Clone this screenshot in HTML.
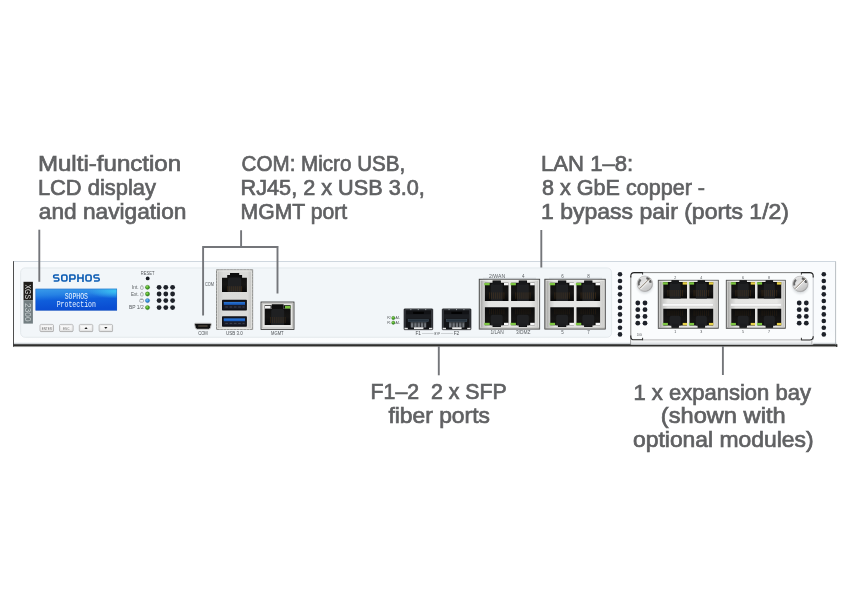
<!DOCTYPE html>
<html><head><meta charset="utf-8"><title>XGS 2300</title>
<style>
html,body{margin:0;padding:0;background:#fff;}
body{width:850px;height:610px;overflow:hidden;font-family:"Liberation Sans",sans-serif;}
svg{display:block;will-change:transform;opacity:0.999;font-family:"Liberation Sans",sans-serif;}
.lbl text{fill:#606163;stroke:#606163;stroke-width:0.7px;}
.tiny text{fill:#55585c;font-size:4.6px;text-anchor:middle;}
</style></head><body>
<svg width="850" height="610" viewBox="0 0 850 610">
<defs>
<linearGradient id="gBody" x1="0" y1="0" x2="0" y2="1">
<stop offset="0" stop-color="#f9fbfd"/><stop offset="0.85" stop-color="#f9fbfd"/><stop offset="1" stop-color="#fcfdfe"/></linearGradient>
<linearGradient id="gBottom" x1="0" y1="0" x2="0" y2="1">
<stop offset="0" stop-color="#fbfdfe"/><stop offset="0.28" stop-color="#e8ecef"/><stop offset="0.42" stop-color="#9ca0a4"/><stop offset="0.52" stop-color="#343432"/><stop offset="0.72" stop-color="#2c2c2a"/><stop offset="0.85" stop-color="#b5b5b3"/><stop offset="1" stop-color="#ffffff"/></linearGradient>
<linearGradient id="gLcd" x1="0" y1="0" x2="0.15" y2="1">
<stop offset="0" stop-color="#3a9cea"/><stop offset="0.3" stop-color="#2682e4"/><stop offset="0.55" stop-color="#0f5edb"/><stop offset="1" stop-color="#0a4dd2"/></linearGradient>
<radialGradient id="gLcdHi" cx="1" cy="0.1" r="0.35" gradientTransform="scale(1 1)">
<stop offset="0" stop-color="#3cc8f4" stop-opacity="0.95"/><stop offset="1" stop-color="#3cc8f4" stop-opacity="0"/></radialGradient>
<linearGradient id="gBtn" x1="0" y1="0" x2="0" y2="1">
<stop offset="0" stop-color="#ffffff"/><stop offset="1" stop-color="#e9e9e9"/></linearGradient>
<radialGradient id="gGreen" cx="0.4" cy="0.35" r="0.7">
<stop offset="0" stop-color="#a4e660"/><stop offset="0.5" stop-color="#47a428"/><stop offset="1" stop-color="#2a7a1a"/></radialGradient>
<radialGradient id="gBlue" cx="0.4" cy="0.35" r="0.7">
<stop offset="0" stop-color="#7cc4f5"/><stop offset="0.6" stop-color="#2c86d6"/><stop offset="1" stop-color="#1a5fa8"/></radialGradient>
<radialGradient id="gScrew" cx="0.42" cy="0.4" r="0.62">
<stop offset="0" stop-color="#f4f4f4"/><stop offset="0.7" stop-color="#d9d9d9"/><stop offset="0.9" stop-color="#bdbdbd"/><stop offset="1" stop-color="#8c8c8c"/></radialGradient>
<linearGradient id="gScrewIn" x1="0" y1="0" x2="0.6" y2="1">
<stop offset="0" stop-color="#cfcfcf"/><stop offset="0.5" stop-color="#e6e6e6"/><stop offset="1" stop-color="#c4c4c4"/></linearGradient>
<linearGradient id="gShell" x1="0" y1="0" x2="0" y2="1">
<stop offset="0" stop-color="#c9c9c7"/><stop offset="0.5" stop-color="#e6e6e4"/><stop offset="1" stop-color="#bdbdbb"/></linearGradient>
<linearGradient id="gShellH" x1="0" y1="0" x2="1" y2="0">
<stop offset="0" stop-color="#8f8f8d"/><stop offset="0.07" stop-color="#c6c6c4"/><stop offset="0.16" stop-color="#e4e4e2"/><stop offset="0.85" stop-color="#e6e6e4"/><stop offset="0.95" stop-color="#d2d2d0"/><stop offset="1" stop-color="#b5b5b3"/></linearGradient>
<linearGradient id="gShellC" x1="0" y1="0" x2="1" y2="0">
<stop offset="0" stop-color="#a9a9a7"/><stop offset="0.08" stop-color="#cfcfcd"/><stop offset="0.2" stop-color="#dcdcda"/><stop offset="0.85" stop-color="#dadad8"/><stop offset="1" stop-color="#bfbfbd"/></linearGradient>
<linearGradient id="gStrip" x1="0" y1="0" x2="0" y2="1">
<stop offset="0" stop-color="#ffffff"/><stop offset="1" stop-color="#d5d9dc"/></linearGradient>
<linearGradient id="gPort" x1="0" y1="0" x2="0" y2="1">
<stop offset="0" stop-color="#0c0c0c"/><stop offset="0.6" stop-color="#161514"/><stop offset="1" stop-color="#080808"/></linearGradient>
<g id="pTop">
<rect x="0" y="0" width="24" height="19.5" fill="url(#gPort)"/>
<rect x="6.5" y="-0.8" width="11" height="6" fill="#101010"/>
<g stroke="#6b4a22" stroke-width="0.5"><path d="M5.5 11v6M7.4 11v6M9.3 11v6M11.2 11v6M13.1 11v6M15 11v6M16.9 11v6M18.8 11v6"/></g>
</g>
<g id="pBot">
<rect x="0" y="0" width="24" height="19.5" fill="url(#gPort)"/>
<rect x="6.5" y="14.3" width="11" height="6" fill="#101010"/>
<g stroke="#5a3d1c" stroke-width="0.5"><path d="M5.5 2v5M7.4 2v5M9.3 2v5M11.2 2v5M13.1 2v5M15 2v5M16.9 2v5M18.8 2v5"/></g>
</g>
<filter id="fBlur05" x="-20%" y="-20%" width="140%" height="140%"><feGaussianBlur stdDeviation="0.55"/></filter><filter id="fBlur1" x="-30%" y="-30%" width="160%" height="160%"><feGaussianBlur stdDeviation="0.9"/></filter>
</defs>
<rect width="850" height="610" fill="#ffffff"/>
<g class="lbl">
<text x="37.9" y="170.6" font-size="22" textLength="143.3" lengthAdjust="spacingAndGlyphs" text-anchor="start">Multi-function</text><text x="37.9" y="194.8" font-size="22" textLength="118.0" lengthAdjust="spacingAndGlyphs" text-anchor="start">LCD display</text><text x="38.8" y="218.9" font-size="22" textLength="147.6" lengthAdjust="spacingAndGlyphs" text-anchor="start">and navigation</text><text x="241.6" y="170.6" font-size="22" textLength="163.6" lengthAdjust="spacingAndGlyphs" text-anchor="start">COM: Micro USB,</text><text x="240.6" y="194.8" font-size="22" textLength="184.2" lengthAdjust="spacingAndGlyphs" text-anchor="start">RJ45, 2 x USB 3.0,</text><text x="240.6" y="218.9" font-size="22" textLength="106.6" lengthAdjust="spacingAndGlyphs" text-anchor="start">MGMT port</text><text x="541.0" y="171.0" font-size="22" textLength="92.2" lengthAdjust="spacingAndGlyphs" text-anchor="start">LAN 1–8:</text><text x="542.0" y="195.2" font-size="22" textLength="163.0" lengthAdjust="spacingAndGlyphs" text-anchor="start">8 x GbE copper -</text><text x="541.0" y="219.4" font-size="22" textLength="248.0" lengthAdjust="spacingAndGlyphs" text-anchor="start">1 bypass pair (ports 1/2)</text><text x="370.6" y="399.0" font-size="22" textLength="136.2" lengthAdjust="spacingAndGlyphs" text-anchor="start">F1–2&#160;&#160;2 x SFP</text><text x="388.4" y="423.0" font-size="22" textLength="101.5" lengthAdjust="spacingAndGlyphs" text-anchor="start">fiber ports</text><text x="633.4" y="399.5" font-size="22" textLength="177.6" lengthAdjust="spacingAndGlyphs" text-anchor="start">1 x expansion bay</text><text x="660.8" y="423.4" font-size="22" textLength="124.8" lengthAdjust="spacingAndGlyphs" text-anchor="start">(shown with</text><text x="633.0" y="447.2" font-size="22" textLength="180.6" lengthAdjust="spacingAndGlyphs" text-anchor="start">optional modules)</text></g>
<g id="device">
<rect x="13" y="261.2" width="823" height="82" fill="url(#gBody)"/>
<rect x="13" y="341.5" width="823.6" height="6.1" fill="url(#gBottom)"/>
<rect x="836" y="344.3" width="1.4" height="2.6" fill="#2e2e2c"/>
<path d="M13.2 261.5H835.8" stroke="#c9d2db" stroke-width="0.9"/>
<path d="M835.6 261.5V344.5" stroke="#a7adb3" stroke-width="0.8"/>
<rect x="13.1" y="261.2" width="0.9" height="85.4" fill="#3a3a3a"/>
<rect x="20.6" y="267.9" width="591" height="69.4" rx="4.5" fill="#f2f6f9" stroke="#dce2e7" stroke-width="0.7"/>
</g>
<g id="left">
<rect x="23.5" y="281.8" width="9.4" height="18.5" fill="#1f1d1a"/>
<rect x="23.5" y="300.3" width="9.4" height="23.3" fill="#737f82"/>
<text transform="translate(25.2,284.5) rotate(90)" font-size="8.7" fill="#dedede" textLength="14.5" lengthAdjust="spacingAndGlyphs">XGS</text>
<text transform="translate(25.2,303.1) rotate(90)" font-size="8.7" fill="#c6cdcf" textLength="18.5" lengthAdjust="spacingAndGlyphs">2300</text>
<g fill="none" stroke="#0b5bb3" stroke-width="1.62" stroke-linejoin="round">
<path transform="translate(52.80,274.2)" d="M6.1 0.85H2.3Q0.9 0.85 0.9 2.2V2.5Q0.9 3.85 2.3 3.85H4.7Q6.1 3.85 6.1 5.2V5.5Q6.1 6.85 4.7 6.85H0.9"/>
<path transform="translate(60.86,274.2)" d="M2.5 0.85H4.5Q6.05 0.85 6.05 2.4V5.3Q6.05 6.85 4.5 6.85H2.5Q0.95 6.85 0.95 5.3V2.4Q0.95 0.85 2.5 0.85Z"/>
<path transform="translate(68.92,274.2)" d="M1.0 7.7V0.85H4.6Q6.1 0.85 6.1 2.3V3.3Q6.1 4.75 4.6 4.75H1.0"/>
<path transform="translate(76.98,274.2)" d="M1.0 0V7.7M6.0 0V7.7M1.0 3.85H6.0"/>
<path transform="translate(85.04,274.2)" d="M2.5 0.85H4.5Q6.05 0.85 6.05 2.4V5.3Q6.05 6.85 4.5 6.85H2.5Q0.95 6.85 0.95 5.3V2.4Q0.95 0.85 2.5 0.85Z"/>
<path transform="translate(93.10,274.2)" d="M6.1 0.85H2.3Q0.9 0.85 0.9 2.2V2.5Q0.9 3.85 2.3 3.85H4.7Q6.1 3.85 6.1 5.2V5.5Q6.1 6.85 4.7 6.85H0.9"/>
</g>
<rect x="35.6" y="288.8" width="81.4" height="21.7" fill="url(#gLcd)"/>
<rect x="35.6" y="288.8" width="81.4" height="21.7" fill="url(#gLcdHi)"/>
<rect x="35.8" y="289.0" width="81.0" height="21.3" fill="none" stroke="#2a5fb8" stroke-width="0.5" opacity="0.8"/>
<g font-family="Liberation Mono, monospace" fill="#eaf3ff" text-anchor="middle">
<text x="76.3" y="298.8" font-size="9.6" textLength="23.3" lengthAdjust="spacingAndGlyphs">SOPHOS</text>
<text x="76.3" y="307.1" font-size="8.6" textLength="39.2" lengthAdjust="spacingAndGlyphs">Protection</text>
</g>
<rect x="40.2" y="324.8" width="13.5" height="7.3" rx="1.4" fill="#a9a9a9" opacity="0.8"/>
<rect x="40.0" y="324.4" width="13.5" height="7.2" rx="1.3" fill="url(#gBtn)" stroke="#9c9c9c" stroke-width="0.6"/>
<rect x="41.0" y="325.4" width="11.5" height="5.2" rx="0.7" fill="none" stroke="#dadada" stroke-width="0.4"/>
<text x="46.75" y="329.5" font-size="3.3" fill="#707070" text-anchor="middle" textLength="10.2" lengthAdjust="spacingAndGlyphs">ENTER</text>
<rect x="59.7" y="324.8" width="13.5" height="7.3" rx="1.4" fill="#a9a9a9" opacity="0.8"/>
<rect x="59.5" y="324.4" width="13.5" height="7.2" rx="1.3" fill="url(#gBtn)" stroke="#9c9c9c" stroke-width="0.6"/>
<rect x="60.5" y="325.4" width="11.5" height="5.2" rx="0.7" fill="none" stroke="#dadada" stroke-width="0.4"/>
<text x="66.25" y="329.5" font-size="3.3" fill="#707070" text-anchor="middle" textLength="6.4" lengthAdjust="spacingAndGlyphs">ESC</text>
<rect x="79.5" y="324.8" width="13.5" height="7.3" rx="1.4" fill="#a9a9a9" opacity="0.8"/>
<rect x="79.3" y="324.4" width="13.5" height="7.2" rx="1.3" fill="url(#gBtn)" stroke="#9c9c9c" stroke-width="0.6"/>
<rect x="80.3" y="325.4" width="11.5" height="5.2" rx="0.7" fill="none" stroke="#dadada" stroke-width="0.4"/>
<path d="M84.45 328.90000000000003L86.05 327.1L87.64999999999999 328.90000000000003Z" fill="#222"/>
<rect x="99.3" y="324.8" width="13.5" height="7.3" rx="1.4" fill="#a9a9a9" opacity="0.8"/>
<rect x="99.1" y="324.4" width="13.5" height="7.2" rx="1.3" fill="url(#gBtn)" stroke="#9c9c9c" stroke-width="0.6"/>
<rect x="100.1" y="325.4" width="11.5" height="5.2" rx="0.7" fill="none" stroke="#dadada" stroke-width="0.4"/>
<path d="M104.25 327.1L105.85 328.90000000000003L107.44999999999999 327.1Z" fill="#222"/>
<text x="147.6" y="274.7" font-size="4.5" fill="#55595d" text-anchor="middle" textLength="13.6" lengthAdjust="spacingAndGlyphs">RESET</text>
<circle cx="147.7" cy="278.4" r="1.9" fill="#171b22"/>
<circle cx="147.5" cy="287.3" r="2.15" fill="url(#gGreen)" stroke="#2f6a1e" stroke-width="0.3"/>
<circle cx="159.1" cy="287.3" r="2.4" fill="#1e222a"/>
<circle cx="165.8" cy="287.3" r="2.4" fill="#1e222a"/>
<circle cx="172.6" cy="287.3" r="2.4" fill="#1e222a"/>
<text x="131.89999999999998" y="288.8" font-size="5.2" fill="#55595d" textLength="6.8" lengthAdjust="spacingAndGlyphs">Int.</text>
<rect x="140.5" y="286.1" width="2.7" height="3.2" rx="0.8" fill="none" stroke="#666a6e" stroke-width="0.45"/>
<path d="M141.85 286.1v-1" stroke="#666a6e" stroke-width="0.45"/>
<circle cx="147.5" cy="294.0" r="2.15" fill="url(#gGreen)" stroke="#2f6a1e" stroke-width="0.3"/>
<circle cx="159.1" cy="294.0" r="2.4" fill="#1e222a"/>
<circle cx="165.8" cy="294.0" r="2.4" fill="#1e222a"/>
<circle cx="172.6" cy="294.0" r="2.4" fill="#1e222a"/>
<text x="130.89999999999998" y="295.5" font-size="5.2" fill="#55595d" textLength="7.8" lengthAdjust="spacingAndGlyphs">Ext.</text>
<rect x="140.5" y="292.8" width="2.7" height="3.2" rx="0.8" fill="none" stroke="#666a6e" stroke-width="0.45"/>
<path d="M141.85 292.8v-1" stroke="#666a6e" stroke-width="0.45"/>
<circle cx="147.5" cy="300.6" r="2.15" fill="url(#gBlue)" stroke="#1f5f9a" stroke-width="0.3"/>
<circle cx="159.1" cy="300.6" r="2.4" fill="#1e222a"/>
<circle cx="165.8" cy="300.6" r="2.4" fill="#1e222a"/>
<circle cx="172.6" cy="300.6" r="2.4" fill="#1e222a"/>
<rect x="139.7" y="299.3" width="3.8" height="2.9" rx="0.8" fill="none" stroke="#666a6e" stroke-width="0.45"/>
<path d="M140.4 299.20000000000005h2.4" stroke="#666a6e" stroke-width="0.6"/>
<circle cx="147.5" cy="307.6" r="2.15" fill="url(#gGreen)" stroke="#2f6a1e" stroke-width="0.3"/>
<circle cx="159.1" cy="307.6" r="2.4" fill="#1e222a"/>
<circle cx="165.8" cy="307.6" r="2.4" fill="#1e222a"/>
<circle cx="172.6" cy="307.6" r="2.4" fill="#1e222a"/>
<text x="129.0" y="309.3" font-size="4.9" fill="#55595d" textLength="14.7" lengthAdjust="spacingAndGlyphs">BP 1/2</text>
</g>
<g id="com">
<path d="M195.6 323.2H210.3Q211.4 323.2 211.3 324.4L210.6 327.6Q210.2 329.3 208.6 329.3H197.3Q195.7 329.3 195.3 327.6L194.6 324.4Q194.5 323.2 195.6 323.2Z" fill="#111" stroke="#cdcdcd" stroke-width="1.0"/>
<rect x="198.2" y="325.4" width="9.4" height="1.2" fill="#5b5146"/>
<text x="203" y="334.9" font-size="4.5" fill="#4e5256" text-anchor="middle" textLength="9.6" lengthAdjust="spacingAndGlyphs">COM</text>
<rect x="216.3" y="269.8" width="36.5" height="59.7" fill="url(#gShellC)"/>
<rect x="216.3" y="269.8" width="36.5" height="59.7" fill="none" stroke="#6a6a68" stroke-width="0.6"/>
<rect x="216.3" y="269.8" width="36.5" height="59.7" fill="none" stroke="#e4e4e2" stroke-width="0.7" stroke-dasharray="0.7 2.6" opacity="0.9"/>
<rect x="217.5" y="271.0" width="34.1" height="57.3" fill="none" stroke="#f0f0ee" stroke-width="0.7" opacity="0.8"/>
<path d="M222 277.8H227.2V274.9H230V272.9H239.2V274.9H242.1V277.8H246.9V292.1H222Z" fill="url(#gPort)"/>
<path d="M228 292.1V279.5Q228 277.5 230 277.5H239.2Q241.2 277.5 241.2 279.5V292.1Z" fill="#1f2022"/>
<g stroke="#8a5a22" stroke-width="0.5" opacity="0.6"><path d="M227.8 286.2v5.4M229.8 286.2v5.4M231.8 286.2v5.4M233.8 286.2v5.4M235.8 286.2v5.4M237.8 286.2v5.4M239.8 286.2v5.4M241.6 286.2v5.4"/></g>
<text x="209.5" y="285.5" font-size="4.5" fill="#55595d" text-anchor="middle" textLength="9.2" lengthAdjust="spacingAndGlyphs">COM</text>
<rect x="222" y="299.8" width="24.9" height="10.6" rx="0.7" fill="#101116"/>
<rect x="223.4" y="301.2" width="22.1" height="7.6" fill="#191c2a"/>
<rect x="223.8" y="302.2" width="21.2" height="2.6" fill="#1b5fc2"/>
<rect x="223.8" y="302.2" width="21.2" height="0.9" fill="#2f7bd8"/>
<g stroke="#5a5d66" stroke-width="0.6"><path d="M225.3 307.0h2.6M229.6 307.0h2.6M233.9 307.0h2.6M238.2 307.0h2.6M242.5 307.0h2"/></g>
<rect x="222" y="316.2" width="24.9" height="10.6" rx="0.7" fill="#101116"/>
<rect x="223.4" y="317.59999999999997" width="22.1" height="7.6" fill="#191c2a"/>
<rect x="223.8" y="318.59999999999997" width="21.2" height="2.6" fill="#1b5fc2"/>
<rect x="223.8" y="318.59999999999997" width="21.2" height="0.9" fill="#2f7bd8"/>
<g stroke="#5a5d66" stroke-width="0.6"><path d="M225.3 323.4h2.6M229.6 323.4h2.6M233.9 323.4h2.6M238.2 323.4h2.6M242.5 323.4h2"/></g>
<text x="234.4" y="334.9" font-size="4.5" fill="#4e5256" text-anchor="middle" textLength="16.8" lengthAdjust="spacingAndGlyphs">USB 3.0</text>
<rect x="261" y="302" width="33" height="27.4" fill="#e3e3e1" stroke="#2e2e2e" stroke-width="0.8"/>
<rect x="262.6" y="303.4" width="29.8" height="24.6" fill="none" stroke="#bdbdbb" stroke-width="0.8"/>
<path d="M264.7 309H271.8V304.3H283.6V309H290.6V325H264.7Z" fill="url(#gPort)"/>
<rect x="264.7" y="305.2" width="7" height="3.6" fill="#0f0f0f"/>
<rect x="283.6" y="305.2" width="7" height="3.6" fill="#0f0f0f"/>
<rect x="265" y="305.9" width="5.6" height="2.6" fill="#f4f4f4"/>
<rect x="285" y="305.9" width="5.4" height="2.6" fill="#7cc540"/>
<path d="M271.2 325V311Q271.2 309 273.2 309H282.2Q284.2 309 284.2 311V325Z" fill="#1f2022"/>
<g stroke="#6a4820" stroke-width="0.5" opacity="0.6"><path d="M270.5 317v6M272.6 317v6M274.7 317v6M276.8 317v6M278.9 317v6M281 317v6M283.1 317v6M285.2 317v6"/></g>
<text x="277.3" y="334.9" font-size="4.5" fill="#4e5256" text-anchor="middle" textLength="12.5" lengthAdjust="spacingAndGlyphs">MGMT</text>
</g>
<g id="sfp">
<text x="387.2" y="319.1" font-size="3.1" fill="#4e5256">F2</text>
<text x="395.4" y="319.1" font-size="3.1" fill="#4e5256">A/L</text>
<circle cx="393.3" cy="318.0" r="1.7" fill="url(#gGreen)" stroke="#2f6a1e" stroke-width="0.3"/>
<text x="387.2" y="323.8" font-size="3.1" fill="#4e5256">F1</text>
<text x="395.4" y="323.8" font-size="3.1" fill="#4e5256">A/L</text>
<circle cx="393.3" cy="322.7" r="1.7" fill="url(#gGreen)" stroke="#2f6a1e" stroke-width="0.3"/>
<g transform="translate(403.9,308.8)">
<rect x="0" y="0" width="29" height="21" rx="0.9" fill="#121316" stroke="#4c4e52" stroke-width="0.5"/>
<rect x="0.3" y="1.2" width="1.6" height="18" fill="#33363b"/>
<rect x="27.1" y="1.2" width="1.6" height="18" fill="#33363b"/>
<rect x="1.2" y="0.5" width="26.6" height="0.9" fill="#44474c"/>
<g fill="#b8bcc0"><rect x="13.9" y="0.4" width="0.9" height="0.9"/><rect x="21.4" y="0.4" width="0.9" height="0.9"/><rect x="6.5" y="0.4" width="0.9" height="0.9"/></g>
<rect x="9.2" y="3.0" width="10.8" height="2.1" fill="#030303"/>
<rect x="2" y="5.4" width="25" height="4.6" fill="#1b1d21"/>
<rect x="4.2" y="10.5" width="20.6" height="2.5" fill="#27323d" stroke="#465663" stroke-width="0.4"/>
<rect x="6.9" y="13.3" width="15.4" height="5.4" fill="#71757b"/>
<g stroke="#26282c" stroke-width="1.0"><path d="M9.9 13.3v5.4M13.2 13.3v5.4M16.5 13.3v5.4M19.8 13.3v5.4"/></g>
<rect x="6.9" y="13.3" width="15.4" height="1.2" fill="#30343a" opacity="0.7"/>
<rect x="10.1" y="18.5" width="9.4" height="1.8" fill="#ededed"/>
<rect x="0.6" y="19.0" width="3.3" height="1.4" fill="#e4e4e4"/>
<rect x="25.1" y="19.0" width="3.3" height="1.4" fill="#e4e4e4"/>
</g>
<g transform="translate(442.1,308.8)">
<rect x="0" y="0" width="29" height="21" rx="0.9" fill="#121316" stroke="#4c4e52" stroke-width="0.5"/>
<rect x="0.3" y="1.2" width="1.6" height="18" fill="#33363b"/>
<rect x="27.1" y="1.2" width="1.6" height="18" fill="#33363b"/>
<rect x="1.2" y="0.5" width="26.6" height="0.9" fill="#44474c"/>
<g fill="#b8bcc0"><rect x="13.9" y="0.4" width="0.9" height="0.9"/><rect x="21.4" y="0.4" width="0.9" height="0.9"/><rect x="6.5" y="0.4" width="0.9" height="0.9"/></g>
<rect x="9.2" y="3.0" width="10.8" height="2.1" fill="#030303"/>
<rect x="2" y="5.4" width="25" height="4.6" fill="#1b1d21"/>
<rect x="4.2" y="10.5" width="20.6" height="2.5" fill="#27323d" stroke="#465663" stroke-width="0.4"/>
<rect x="6.9" y="13.3" width="15.4" height="5.4" fill="#71757b"/>
<g stroke="#26282c" stroke-width="1.0"><path d="M9.9 13.3v5.4M13.2 13.3v5.4M16.5 13.3v5.4M19.8 13.3v5.4"/></g>
<rect x="6.9" y="13.3" width="15.4" height="1.2" fill="#30343a" opacity="0.7"/>
<rect x="10.1" y="18.5" width="9.4" height="1.8" fill="#ededed"/>
<rect x="0.6" y="19.0" width="3.3" height="1.4" fill="#e4e4e4"/>
<rect x="25.1" y="19.0" width="3.3" height="1.4" fill="#e4e4e4"/>
</g>
<text x="418.2" y="335.2" font-size="4.8" fill="#4e5256" text-anchor="middle">F1</text>
<text x="456.5" y="335.2" font-size="4.8" fill="#4e5256" text-anchor="middle">F2</text>
<path d="M422 333.5H433.6M441 333.5H453" stroke="#8a8d91" stroke-width="0.35"/>
<text x="437.3" y="334.5" font-size="2.7" fill="#4e5256" text-anchor="middle">BYP</text>
</g>
<g id="lan">
<rect x="479.2" y="279.2" width="60.5" height="49.9" fill="url(#gShellH)" stroke="#3e3e3e" stroke-width="0.8"/>
<rect x="480.5" y="280.5" width="57.9" height="47.3" fill="none" stroke="#f2f2f0" stroke-width="0.7" opacity="0.85"/>
<rect x="479.59999999999997" y="327.6" width="59.7" height="1.2" fill="#8e8e8c" opacity="0.7"/>
<path d="M484.9 282.8H492.55V280.6H500.84999999999997V282.8H508.5V301.0H484.9Z" fill="url(#gPort)"/>
<path d="M490.75 301.0V285.40000000000003Q490.75 283.40000000000003 492.75 283.40000000000003H500.65Q502.65 283.40000000000003 502.65 285.40000000000003V301.0Z" fill="#1f2022"/>
<rect x="493.15000000000003" y="280.90000000000003" width="7.1000000000000005" height="3.8000000000000003" fill="#17181a"/>
<path d="M489.50 292.4v6.4M491.56 292.4v6.4M493.61 292.4v6.4M495.67 292.4v6.4M497.73 292.4v6.4M499.79 292.4v6.4M501.84 292.4v6.4M503.90 292.4v6.4" stroke="#7a5020" stroke-width="0.55" opacity="0.5"/>
<rect x="484.29999999999995" y="282.90000000000003" width="5.4" height="2.4" fill="#7cc540"/>
<rect x="504.0" y="282.90000000000003" width="4.6000000000000005" height="2.4" fill="#f6f6f6"/>
<path d="M484.9 307.3H508.5V325.3H500.84999999999997V327.0H492.55V325.3H484.9Z" fill="url(#gPort)"/>
<path d="M490.75 325.3V316.86Q490.75 314.86 492.75 314.86H500.65Q502.65 314.86 502.65 316.86V325.3Z" fill="#1f2022"/>
<rect x="493.15000000000003" y="323.7" width="7.1000000000000005" height="3.0" fill="#1b1c1e"/>
<path d="M489.50 308.90000000000003v5.4M491.56 308.90000000000003v5.4M493.61 308.90000000000003v5.4M495.67 308.90000000000003v5.4M497.73 308.90000000000003v5.4M499.79 308.90000000000003v5.4M501.84 308.90000000000003v5.4M503.90 308.90000000000003v5.4" stroke="#5a3a18" stroke-width="0.55" opacity="0.35"/>
<rect x="484.29999999999995" y="322.8" width="5.4" height="2.4" fill="#7cc540"/>
<rect x="504.0" y="322.8" width="4.6000000000000005" height="2.4" fill="#f6f6f6"/>
<path d="M511.1 282.8H518.75V280.6H527.05V282.8H534.7V301.0H511.1Z" fill="url(#gPort)"/>
<path d="M516.9499999999999 301.0V285.40000000000003Q516.9499999999999 283.40000000000003 518.9499999999999 283.40000000000003H526.85Q528.85 283.40000000000003 528.85 285.40000000000003V301.0Z" fill="#1f2022"/>
<rect x="519.35" y="280.90000000000003" width="7.1000000000000005" height="3.8000000000000003" fill="#17181a"/>
<path d="M515.70 292.4v6.4M517.76 292.4v6.4M519.81 292.4v6.4M521.87 292.4v6.4M523.93 292.4v6.4M525.99 292.4v6.4M528.04 292.4v6.4M530.10 292.4v6.4" stroke="#7a5020" stroke-width="0.55" opacity="0.5"/>
<rect x="510.5" y="282.90000000000003" width="5.4" height="2.4" fill="#7cc540"/>
<rect x="530.2" y="282.90000000000003" width="4.6000000000000005" height="2.4" fill="#f6f6f6"/>
<path d="M511.1 307.3H534.7V325.3H527.05V327.0H518.75V325.3H511.1Z" fill="url(#gPort)"/>
<path d="M516.9499999999999 325.3V316.86Q516.9499999999999 314.86 518.9499999999999 314.86H526.85Q528.85 314.86 528.85 316.86V325.3Z" fill="#1f2022"/>
<rect x="519.35" y="323.7" width="7.1000000000000005" height="3.0" fill="#1b1c1e"/>
<path d="M515.70 308.90000000000003v5.4M517.76 308.90000000000003v5.4M519.81 308.90000000000003v5.4M521.87 308.90000000000003v5.4M523.93 308.90000000000003v5.4M525.99 308.90000000000003v5.4M528.04 308.90000000000003v5.4M530.10 308.90000000000003v5.4" stroke="#5a3a18" stroke-width="0.55" opacity="0.35"/>
<rect x="510.5" y="322.8" width="5.4" height="2.4" fill="#7cc540"/>
<rect x="530.2" y="322.8" width="4.6000000000000005" height="2.4" fill="#f6f6f6"/>
<rect x="544.8" y="279.2" width="60.5" height="49.9" fill="url(#gShellH)" stroke="#3e3e3e" stroke-width="0.8"/>
<rect x="546.0999999999999" y="280.5" width="57.9" height="47.3" fill="none" stroke="#f2f2f0" stroke-width="0.7" opacity="0.85"/>
<rect x="545.1999999999999" y="327.6" width="59.7" height="1.2" fill="#8e8e8c" opacity="0.7"/>
<path d="M550.3 282.8H557.9499999999999V280.6H566.2499999999999V282.8H573.9V301.0H550.3Z" fill="url(#gPort)"/>
<path d="M556.1499999999999 301.0V285.40000000000003Q556.1499999999999 283.40000000000003 558.1499999999999 283.40000000000003H566.05Q568.05 283.40000000000003 568.05 285.40000000000003V301.0Z" fill="#1f2022"/>
<rect x="558.55" y="280.90000000000003" width="7.1000000000000005" height="3.8000000000000003" fill="#17181a"/>
<path d="M554.90 292.4v6.4M556.96 292.4v6.4M559.01 292.4v6.4M561.07 292.4v6.4M563.13 292.4v6.4M565.19 292.4v6.4M567.24 292.4v6.4M569.30 292.4v6.4" stroke="#7a5020" stroke-width="0.55" opacity="0.5"/>
<rect x="549.6999999999999" y="282.90000000000003" width="5.4" height="2.4" fill="#7cc540"/>
<rect x="569.4" y="282.90000000000003" width="4.6000000000000005" height="2.4" fill="#f6f6f6"/>
<path d="M550.3 307.3H573.9V325.3H566.2499999999999V327.0H557.9499999999999V325.3H550.3Z" fill="url(#gPort)"/>
<path d="M556.1499999999999 325.3V316.86Q556.1499999999999 314.86 558.1499999999999 314.86H566.05Q568.05 314.86 568.05 316.86V325.3Z" fill="#1f2022"/>
<rect x="558.55" y="323.7" width="7.1000000000000005" height="3.0" fill="#1b1c1e"/>
<path d="M554.90 308.90000000000003v5.4M556.96 308.90000000000003v5.4M559.01 308.90000000000003v5.4M561.07 308.90000000000003v5.4M563.13 308.90000000000003v5.4M565.19 308.90000000000003v5.4M567.24 308.90000000000003v5.4M569.30 308.90000000000003v5.4" stroke="#5a3a18" stroke-width="0.55" opacity="0.35"/>
<rect x="549.6999999999999" y="322.8" width="5.4" height="2.4" fill="#7cc540"/>
<rect x="569.4" y="322.8" width="4.6000000000000005" height="2.4" fill="#f6f6f6"/>
<path d="M576.5 282.8H584.15V280.6H592.4499999999999V282.8H600.1V301.0H576.5Z" fill="url(#gPort)"/>
<path d="M582.3499999999999 301.0V285.40000000000003Q582.3499999999999 283.40000000000003 584.3499999999999 283.40000000000003H592.25Q594.25 283.40000000000003 594.25 285.40000000000003V301.0Z" fill="#1f2022"/>
<rect x="584.75" y="280.90000000000003" width="7.1000000000000005" height="3.8000000000000003" fill="#17181a"/>
<path d="M581.10 292.4v6.4M583.16 292.4v6.4M585.21 292.4v6.4M587.27 292.4v6.4M589.33 292.4v6.4M591.39 292.4v6.4M593.44 292.4v6.4M595.50 292.4v6.4" stroke="#7a5020" stroke-width="0.55" opacity="0.5"/>
<rect x="575.9" y="282.90000000000003" width="5.4" height="2.4" fill="#7cc540"/>
<rect x="595.6" y="282.90000000000003" width="4.6000000000000005" height="2.4" fill="#f6f6f6"/>
<path d="M576.5 307.3H600.1V325.3H592.4499999999999V327.0H584.15V325.3H576.5Z" fill="url(#gPort)"/>
<path d="M582.3499999999999 325.3V316.86Q582.3499999999999 314.86 584.3499999999999 314.86H592.25Q594.25 314.86 594.25 316.86V325.3Z" fill="#1f2022"/>
<rect x="584.75" y="323.7" width="7.1000000000000005" height="3.0" fill="#1b1c1e"/>
<path d="M581.10 308.90000000000003v5.4M583.16 308.90000000000003v5.4M585.21 308.90000000000003v5.4M587.27 308.90000000000003v5.4M589.33 308.90000000000003v5.4M591.39 308.90000000000003v5.4M593.44 308.90000000000003v5.4M595.50 308.90000000000003v5.4" stroke="#5a3a18" stroke-width="0.55" opacity="0.35"/>
<rect x="575.9" y="322.8" width="5.4" height="2.4" fill="#7cc540"/>
<rect x="595.6" y="322.8" width="4.6000000000000005" height="2.4" fill="#f6f6f6"/>
<text x="497.1" y="277.5" font-size="4.5" fill="#5b5f63" text-anchor="middle" textLength="16" lengthAdjust="spacingAndGlyphs">2/WAN</text>
<text x="523.2" y="277.5" font-size="4.5" fill="#5b5f63" text-anchor="middle">4</text>
<text x="562.4" y="277.5" font-size="4.5" fill="#5b5f63" text-anchor="middle">6</text>
<text x="588.4" y="277.5" font-size="4.5" fill="#5b5f63" text-anchor="middle">8</text>
<text x="497.1" y="333.6" font-size="4.5" fill="#5b5f63" text-anchor="middle" textLength="13.4" lengthAdjust="spacingAndGlyphs">1/LAN</text>
<text x="523.3" y="333.6" font-size="4.5" fill="#5b5f63" text-anchor="middle" textLength="14.5" lengthAdjust="spacingAndGlyphs">3/DMZ</text>
<text x="562.4" y="333.6" font-size="4.5" fill="#5b5f63" text-anchor="middle">5</text>
<text x="588.4" y="333.6" font-size="4.5" fill="#5b5f63" text-anchor="middle">7</text>
<path d="M483 278.3H536M549 278.3H602" stroke="#aeb3b8" stroke-width="0.5"/>
</g>
<g fill="#1e222a">
<circle cx="620.0" cy="274.30" r="2.3"/>
<circle cx="620.0" cy="280.98" r="2.3"/>
<circle cx="620.0" cy="287.66" r="2.3"/>
<circle cx="620.0" cy="294.34" r="2.3"/>
<circle cx="620.0" cy="301.02" r="2.3"/>
<circle cx="620.0" cy="307.70" r="2.3"/>
<circle cx="620.0" cy="314.38" r="2.3"/>
<circle cx="620.0" cy="321.06" r="2.3"/>
<circle cx="620.0" cy="327.74" r="2.3"/>
<circle cx="620.0" cy="334.42" r="2.3"/>
<circle cx="823.8" cy="274.30" r="2.3"/>
<circle cx="823.8" cy="280.98" r="2.3"/>
<circle cx="823.8" cy="287.66" r="2.3"/>
<circle cx="823.8" cy="294.34" r="2.3"/>
<circle cx="823.8" cy="301.02" r="2.3"/>
<circle cx="823.8" cy="307.70" r="2.3"/>
<circle cx="823.8" cy="314.38" r="2.3"/>
<circle cx="823.8" cy="321.06" r="2.3"/>
<circle cx="823.8" cy="327.74" r="2.3"/>
<circle cx="823.8" cy="334.42" r="2.3"/>
</g>
<g id="bay">
<path d="M630.8 344.4V276Q630.8 272.6 634.2 272.6H809.8Q813.2 272.6 813.2 276V344.4Z" fill="#fafcfd"/>
<path d="M634 272.6H810" stroke="#555" stroke-width="0.7"/>
<path d="M630.8 344.4V276" stroke="#7d7d7d" stroke-width="0.9"/>
<path d="M813.2 276V340" stroke="#b9bdc1" stroke-width="0.8"/>
<rect x="631.3" y="340.2" width="180.6" height="4.2" fill="url(#gStrip)"/>
<path d="M642 339.9H802" stroke="#9a9a9a" stroke-width="0.7"/>
<path d="M811.9 340.4V344.4" stroke="#8a8a8a" stroke-width="0.6"/>
<path d="M642.6 272.6H634.2Q630.8 272.6 630.8 276V277.5" fill="none" stroke="#222" stroke-width="1.1"/>
<path d="M630.8 335.4V336.4Q630.8 339.8 634.2 339.8H642.6" fill="none" stroke="#222" stroke-width="1.1"/>
<path d="M801.4 272.6H809.8Q813.2 272.6 813.2 276V277.5" fill="none" stroke="#222" stroke-width="1.1"/>
<path d="M813.2 336.2V336.6Q813.2 340 809.8 340H801.4" fill="none" stroke="#222" stroke-width="1.1"/>
<path d="M642.6 272.2v2.4M642.6 337.8v2.4M801.4 272.2v2.4M801.4 337.8v2.4" stroke="#222" stroke-width="0.9"/>
<ellipse cx="644.9" cy="286.0" rx="8.0" ry="7.6" fill="#9aa0a6" opacity="0.35" filter="url(#fBlur1)"/>
<circle cx="644.9" cy="283.8" r="7.8" fill="url(#gScrew)" stroke="#a6a6a6" stroke-width="0.5"/>
<circle cx="644.9" cy="283.8" r="6.0" fill="url(#gScrewIn)"/>
<g filter="url(#fBlur05)">
<path d="M639.01 285.38A6.1 6.1 0 0 1 640.59 279.49" stroke="#4b4b4b" stroke-width="2.0" fill="none" opacity="0.8"/>
<path d="M646.43 278.10A5.9 5.9 0 0 1 650.71 282.78" stroke="#3c3c3c" stroke-width="2.1" fill="none" opacity="0.8"/>
</g>
<path d="M640.1999999999999 289.3L650.4 279.1" stroke="#fbfbfb" stroke-width="1.0"/>
<path d="M639.6999999999999 288.5L649.8 278.40000000000003" stroke="#85796a" stroke-width="0.9"/>
<ellipse cx="800.3" cy="286.09999999999997" rx="8.0" ry="7.6" fill="#9aa0a6" opacity="0.35" filter="url(#fBlur1)"/>
<circle cx="800.3" cy="283.9" r="7.8" fill="url(#gScrew)" stroke="#a6a6a6" stroke-width="0.5"/>
<circle cx="800.3" cy="283.9" r="6.0" fill="url(#gScrewIn)"/>
<g filter="url(#fBlur05)">
<path d="M794.41 285.48A6.1 6.1 0 0 1 795.99 279.59" stroke="#4b4b4b" stroke-width="2.0" fill="none" opacity="0.8"/>
<path d="M801.83 278.20A5.9 5.9 0 0 1 806.11 282.88" stroke="#3c3c3c" stroke-width="2.1" fill="none" opacity="0.8"/>
</g>
<path d="M795.5999999999999 289.4L805.8 279.2" stroke="#fbfbfb" stroke-width="1.0"/>
<path d="M795.0999999999999 288.59999999999997L805.1999999999999 278.5" stroke="#85796a" stroke-width="0.9"/>
<circle cx="637.8" cy="303.0" r="2.4" fill="#1e222a"/>
<circle cx="637.8" cy="309.7" r="2.4" fill="#1e222a"/>
<circle cx="637.8" cy="316.4" r="2.4" fill="#1e222a"/>
<circle cx="637.8" cy="323.2" r="2.4" fill="#1e222a"/>
<circle cx="645.0" cy="303.0" r="2.4" fill="#1e222a"/>
<circle cx="645.0" cy="309.7" r="2.4" fill="#1e222a"/>
<circle cx="645.0" cy="316.4" r="2.4" fill="#1e222a"/>
<circle cx="645.0" cy="323.2" r="2.4" fill="#1e222a"/>
<circle cx="799.2" cy="303.0" r="2.4" fill="#1e222a"/>
<circle cx="799.2" cy="309.7" r="2.4" fill="#1e222a"/>
<circle cx="799.2" cy="316.4" r="2.4" fill="#1e222a"/>
<circle cx="799.2" cy="323.2" r="2.4" fill="#1e222a"/>
<circle cx="806.3" cy="303.0" r="2.4" fill="#1e222a"/>
<circle cx="806.3" cy="309.7" r="2.4" fill="#1e222a"/>
<circle cx="806.3" cy="316.4" r="2.4" fill="#1e222a"/>
<circle cx="806.3" cy="323.2" r="2.4" fill="#1e222a"/>
<text x="639.3" y="335.5" font-size="2.6" fill="#4e5256" text-anchor="middle">10G</text>
<rect x="658.2" y="280.2" width="60.2" height="48.3" fill="url(#gShellH)" stroke="#444" stroke-width="0.7"/>
<rect x="659.5" y="281.4" width="57.6" height="45.9" fill="none" stroke="#f2f2f0" stroke-width="0.6" opacity="0.8"/>
<rect x="658.6" y="327.1" width="59.400000000000006" height="1.1" fill="#8e8e8c" opacity="0.6"/>
<rect x="662.6" y="303.6" width="50.8" height="2.5" rx="0.5" fill="#fafafa" stroke="#b5b5b3" stroke-width="0.3"/>
<path d="M663.3000000000001 282.1H671.4000000000001V280.3H678.9000000000001V282.1H687.0000000000001V298.6H663.3000000000001Z" fill="url(#gPort)"/>
<path d="M669.6000000000001 298.6V284.70000000000005Q669.6000000000001 282.70000000000005 671.6000000000001 282.70000000000005H678.7Q680.7 282.70000000000005 680.7 284.70000000000005V298.6Z" fill="#1f2022"/>
<rect x="672.0000000000001" y="280.6" width="6.3" height="3.4000000000000004" fill="#17181a"/>
<path d="M667.90 290.0v6.4M669.97 290.0v6.4M672.04 290.0v6.4M674.11 290.0v6.4M676.19 290.0v6.4M678.26 290.0v6.4M680.33 290.0v6.4M682.40 290.0v6.4" stroke="#7a5020" stroke-width="0.55" opacity="0.5"/>
<rect x="662.7" y="282.20000000000005" width="5.2" height="2.4" fill="#7cc540"/>
<rect x="682.7" y="282.20000000000005" width="4.4" height="2.4" fill="#e6d048"/>
<path d="M663.3000000000001 308.8H687.0000000000001V325.40000000000003H678.9000000000001V327.8H671.4000000000001V325.40000000000003H663.3000000000001Z" fill="url(#gPort)"/>
<path d="M669.6000000000001 325.40000000000003V317.772Q669.6000000000001 315.772 671.6000000000001 315.772H678.7Q680.7 315.772 680.7 317.772V325.40000000000003Z" fill="#1f2022"/>
<rect x="672.0000000000001" y="323.8" width="6.3" height="3.7" fill="#1b1c1e"/>
<path d="M667.90 310.40000000000003v5.4M669.97 310.40000000000003v5.4M672.04 310.40000000000003v5.4M674.11 310.40000000000003v5.4M676.19 310.40000000000003v5.4M678.26 310.40000000000003v5.4M680.33 310.40000000000003v5.4M682.40 310.40000000000003v5.4" stroke="#5a3a18" stroke-width="0.55" opacity="0.35"/>
<rect x="662.7" y="322.90000000000003" width="5.2" height="2.4" fill="#7cc540"/>
<rect x="682.7" y="322.90000000000003" width="4.4" height="2.4" fill="#e6d048"/>
<path d="M689.5 282.1H697.6V280.3H705.1V282.1H713.2V298.6H689.5Z" fill="url(#gPort)"/>
<path d="M695.8000000000001 298.6V284.70000000000005Q695.8000000000001 282.70000000000005 697.8000000000001 282.70000000000005H704.9Q706.9 282.70000000000005 706.9 284.70000000000005V298.6Z" fill="#1f2022"/>
<rect x="698.2" y="280.6" width="6.3" height="3.4000000000000004" fill="#17181a"/>
<path d="M694.10 290.0v6.4M696.17 290.0v6.4M698.24 290.0v6.4M700.31 290.0v6.4M702.39 290.0v6.4M704.46 290.0v6.4M706.53 290.0v6.4M708.60 290.0v6.4" stroke="#7a5020" stroke-width="0.55" opacity="0.5"/>
<rect x="688.9" y="282.20000000000005" width="5.2" height="2.4" fill="#7cc540"/>
<rect x="708.9" y="282.20000000000005" width="4.4" height="2.4" fill="#e6d048"/>
<path d="M689.5 308.8H713.2V325.40000000000003H705.1V327.8H697.6V325.40000000000003H689.5Z" fill="url(#gPort)"/>
<path d="M695.8000000000001 325.40000000000003V317.772Q695.8000000000001 315.772 697.8000000000001 315.772H704.9Q706.9 315.772 706.9 317.772V325.40000000000003Z" fill="#1f2022"/>
<rect x="698.2" y="323.8" width="6.3" height="3.7" fill="#1b1c1e"/>
<path d="M694.10 310.40000000000003v5.4M696.17 310.40000000000003v5.4M698.24 310.40000000000003v5.4M700.31 310.40000000000003v5.4M702.39 310.40000000000003v5.4M704.46 310.40000000000003v5.4M706.53 310.40000000000003v5.4M708.60 310.40000000000003v5.4" stroke="#5a3a18" stroke-width="0.55" opacity="0.35"/>
<rect x="688.9" y="322.90000000000003" width="5.2" height="2.4" fill="#7cc540"/>
<rect x="708.9" y="322.90000000000003" width="4.4" height="2.4" fill="#e6d048"/>
<rect x="726.2" y="280.2" width="59.4" height="48.3" fill="url(#gShellH)" stroke="#444" stroke-width="0.7"/>
<rect x="727.5" y="281.4" width="56.8" height="45.9" fill="none" stroke="#f2f2f0" stroke-width="0.6" opacity="0.8"/>
<rect x="726.6" y="327.1" width="58.6" height="1.1" fill="#8e8e8c" opacity="0.6"/>
<rect x="730.6" y="303.6" width="50.8" height="2.5" rx="0.5" fill="#fafafa" stroke="#b5b5b3" stroke-width="0.3"/>
<path d="M731.3000000000001 282.1H739.4000000000001V280.3H746.9000000000001V282.1H755.0000000000001V298.6H731.3000000000001Z" fill="url(#gPort)"/>
<path d="M737.6000000000001 298.6V284.70000000000005Q737.6000000000001 282.70000000000005 739.6000000000001 282.70000000000005H746.7Q748.7 282.70000000000005 748.7 284.70000000000005V298.6Z" fill="#1f2022"/>
<rect x="740.0000000000001" y="280.6" width="6.3" height="3.4000000000000004" fill="#17181a"/>
<path d="M735.90 290.0v6.4M737.97 290.0v6.4M740.04 290.0v6.4M742.11 290.0v6.4M744.19 290.0v6.4M746.26 290.0v6.4M748.33 290.0v6.4M750.40 290.0v6.4" stroke="#7a5020" stroke-width="0.55" opacity="0.5"/>
<rect x="730.7" y="282.20000000000005" width="5.2" height="2.4" fill="#7cc540"/>
<rect x="750.7" y="282.20000000000005" width="4.4" height="2.4" fill="#e6d048"/>
<path d="M731.3000000000001 308.8H755.0000000000001V325.40000000000003H746.9000000000001V327.8H739.4000000000001V325.40000000000003H731.3000000000001Z" fill="url(#gPort)"/>
<path d="M737.6000000000001 325.40000000000003V317.772Q737.6000000000001 315.772 739.6000000000001 315.772H746.7Q748.7 315.772 748.7 317.772V325.40000000000003Z" fill="#1f2022"/>
<rect x="740.0000000000001" y="323.8" width="6.3" height="3.7" fill="#1b1c1e"/>
<path d="M735.90 310.40000000000003v5.4M737.97 310.40000000000003v5.4M740.04 310.40000000000003v5.4M742.11 310.40000000000003v5.4M744.19 310.40000000000003v5.4M746.26 310.40000000000003v5.4M748.33 310.40000000000003v5.4M750.40 310.40000000000003v5.4" stroke="#5a3a18" stroke-width="0.55" opacity="0.35"/>
<rect x="730.7" y="322.90000000000003" width="5.2" height="2.4" fill="#7cc540"/>
<rect x="750.7" y="322.90000000000003" width="4.4" height="2.4" fill="#e6d048"/>
<path d="M757.5 282.1H765.6V280.3H773.1V282.1H781.2V298.6H757.5Z" fill="url(#gPort)"/>
<path d="M763.8000000000001 298.6V284.70000000000005Q763.8000000000001 282.70000000000005 765.8000000000001 282.70000000000005H772.9Q774.9 282.70000000000005 774.9 284.70000000000005V298.6Z" fill="#1f2022"/>
<rect x="766.2" y="280.6" width="6.3" height="3.4000000000000004" fill="#17181a"/>
<path d="M762.10 290.0v6.4M764.17 290.0v6.4M766.24 290.0v6.4M768.31 290.0v6.4M770.39 290.0v6.4M772.46 290.0v6.4M774.53 290.0v6.4M776.60 290.0v6.4" stroke="#7a5020" stroke-width="0.55" opacity="0.5"/>
<rect x="756.9" y="282.20000000000005" width="5.2" height="2.4" fill="#7cc540"/>
<rect x="776.9" y="282.20000000000005" width="4.4" height="2.4" fill="#e6d048"/>
<path d="M757.5 308.8H781.2V325.40000000000003H773.1V327.8H765.6V325.40000000000003H757.5Z" fill="url(#gPort)"/>
<path d="M763.8000000000001 325.40000000000003V317.772Q763.8000000000001 315.772 765.8000000000001 315.772H772.9Q774.9 315.772 774.9 317.772V325.40000000000003Z" fill="#1f2022"/>
<rect x="766.2" y="323.8" width="6.3" height="3.7" fill="#1b1c1e"/>
<path d="M762.10 310.40000000000003v5.4M764.17 310.40000000000003v5.4M766.24 310.40000000000003v5.4M768.31 310.40000000000003v5.4M770.39 310.40000000000003v5.4M772.46 310.40000000000003v5.4M774.53 310.40000000000003v5.4M776.60 310.40000000000003v5.4" stroke="#5a3a18" stroke-width="0.55" opacity="0.35"/>
<rect x="756.9" y="322.90000000000003" width="5.2" height="2.4" fill="#7cc540"/>
<rect x="776.9" y="322.90000000000003" width="4.4" height="2.4" fill="#e6d048"/>
<text x="675.2" y="278.6" font-size="3.6" fill="#4e5256" text-anchor="middle">2</text>
<text x="701.3" y="278.6" font-size="3.6" fill="#4e5256" text-anchor="middle">4</text>
<text x="743.0" y="278.6" font-size="3.6" fill="#4e5256" text-anchor="middle">6</text>
<text x="769.0" y="278.6" font-size="3.6" fill="#4e5256" text-anchor="middle">8</text>
<text x="675.2" y="333.4" font-size="3.6" fill="#4e5256" text-anchor="middle">1</text>
<text x="701.3" y="333.4" font-size="3.6" fill="#4e5256" text-anchor="middle">3</text>
<text x="743.0" y="333.4" font-size="3.6" fill="#4e5256" text-anchor="middle">5</text>
<text x="769.0" y="333.4" font-size="3.6" fill="#4e5256" text-anchor="middle">7</text>
</g>
<g stroke="#74767a" stroke-width="1.9" fill="none">
<path d="M39.3 229.7V281.8"/>
<path d="M241.1 230.2V247M202.2 247H278.5M203.1 246.2V315.6M277.5 246.2V293.6"/>
<path d="M541.3 230V267.5"/>
<path d="M438.8 346V375.3"/>
<path d="M722.9 346V375"/>
</g>
</svg>
</body></html>
